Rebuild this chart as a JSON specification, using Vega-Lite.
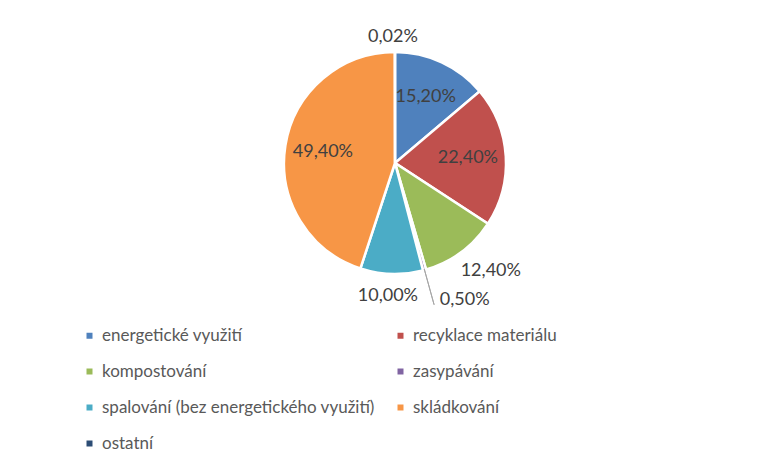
{
  "$schema": "https://vega.github.io/schema/vega-lite/v6.json",
  "width": 790,
  "height": 326,
  "autosize": {"type": "pad"},
  "padding": 0,
  "background": "white",
  "config": {
    "view": {"stroke": null},
    "font": "Lato",
    "locale": {"number": {"decimal": ",", "thousands": " ", "grouping": [3], "currency": ["", " Kč"]}}
  },
  "data": {
    "values": [
      {"kategorie": "energetické využití", "podil": 0.152, "poradi": 1},
      {"kategorie": "recyklace materiálu", "podil": 0.224, "poradi": 2},
      {"kategorie": "kompostování", "podil": 0.124, "poradi": 3},
      {"kategorie": "zasypávání", "podil": 0.005, "poradi": 4},
      {"kategorie": "spalování (bez energetického využití)", "podil": 0.1, "poradi": 5},
      {"kategorie": "skládkování", "podil": 0.494, "poradi": 6},
      {"kategorie": "ostatní", "podil": 0.0002, "poradi": 7}
    ]
  },
  "encoding": {
    "theta": {"field": "podil", "type": "quantitative", "stack": true},
    "order": {"field": "poradi", "type": "quantitative"}
  },
  "layer": [
    {
      "mark": {"type": "arc", "outerRadius": 111, "stroke": "white", "strokeWidth": 2.5},
      "encoding": {
        "color": {
          "field": "kategorie",
          "type": "nominal",
          "scale": {
            "domain": ["energetické využití", "recyklace materiálu", "kompostování", "zasypávání", "spalování (bez energetického využití)", "skládkování", "ostatní"],
            "range": ["#4F81BD", "#C0504D", "#9BBB59", "#8064A2", "#4BACC6", "#F79646", "#2C4D75"]
          },
          "legend": {
            "orient": "none",
            "direction": "horizontal",
            "legendX": 81,
            "legendY": 327,
            "columns": 2,
            "title": null,
            "symbolType": "square",
            "symbolSize": 36,
            "symbolStrokeWidth": 0,
            "labelFontSize": 17,
            "labelFont": "Lato",
            "labelColor": "#595959",
            "labelOffset": 4,
            "rowPadding": 18,
            "columnPadding": 17,
            "labelLimit": 400
          }
        }
      }
    },
    {
      "mark": {"type": "arc", "innerRadius": 110, "outerRadius": 147, "padAngle": 0.05, "fillOpacity": 0, "stroke": "#a6a6a6", "strokeWidth": 1},
      "encoding": {
        "strokeOpacity": {"condition": {"test": "datum.kategorie === 'zasypávání'", "value": 1}, "value": 0}
      }
    },
    {
      "mark": {"type": "text", "radius": 73, "fontSize": 18, "fill": "#404040", "align": "center", "baseline": "middle"},
      "encoding": {
        "text": {"condition": {"test": "indexof(['energetické využití', 'recyklace materiálu', 'skládkování'], datum.kategorie) >= 0", "field": "podil", "type": "quantitative", "format": ".2%"}, "value": ""}
      }
    },
    {
      "mark": {"type": "text", "radius": 134, "dx": 16, "fontSize": 18, "fill": "#404040", "align": "center", "baseline": "middle"},
      "encoding": {
        "text": {"condition": {"test": "datum.kategorie === 'kompostování'", "field": "podil", "type": "quantitative", "format": ".2%"}, "value": ""}
      }
    },
    {
      "mark": {"type": "text", "radius": 142, "dx": 32, "fontSize": 18, "fill": "#404040", "align": "center", "baseline": "middle"},
      "encoding": {
        "text": {"condition": {"test": "datum.kategorie === 'zasypávání'", "field": "podil", "type": "quantitative", "format": ".2%"}, "value": ""}
      }
    },
    {
      "mark": {"type": "text", "radius": 133, "dx": -3, "fontSize": 18, "fill": "#404040", "align": "center", "baseline": "middle"},
      "encoding": {
        "text": {"condition": {"test": "datum.kategorie === 'spalování (bez energetického využití)'", "field": "podil", "type": "quantitative", "format": ".2%"}, "value": ""}
      }
    },
    {
      "mark": {"type": "text", "radius": 126, "dx": -2, "fontSize": 18, "fill": "#404040", "align": "center", "baseline": "middle"},
      "encoding": {
        "text": {"condition": {"test": "datum.kategorie === 'ostatní'", "field": "podil", "type": "quantitative", "format": ".2%"}, "value": ""}
      }
    }
  ]
}
